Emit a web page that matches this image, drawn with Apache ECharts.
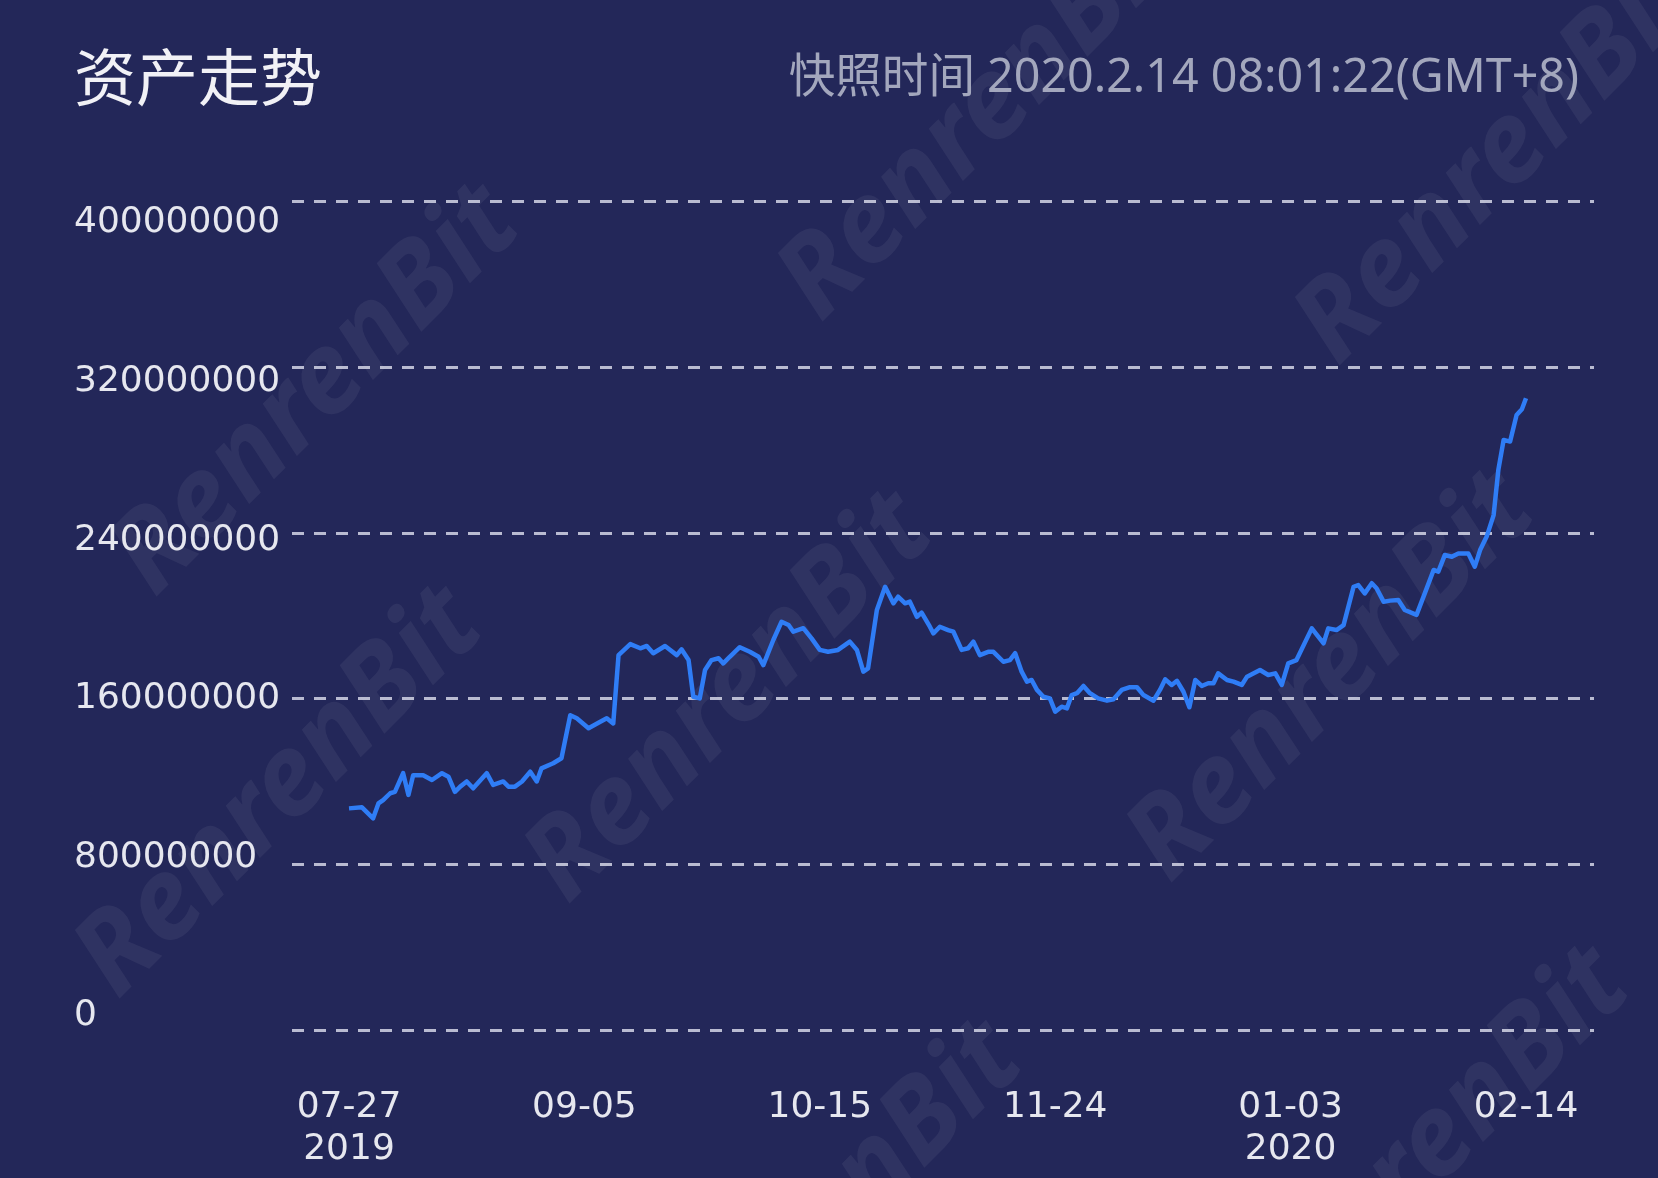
<!DOCTYPE html>
<html>
<head>
<meta charset="utf-8">
<script src="https://cdn.jsdelivr.net/npm/echarts@6/dist/echarts.min.js"></script>
<style>
html,body{margin:0;padding:0;background:#232759;}
#chart{width:1658px;height:1178px;}
</style>
</head>
<body>
<div id="chart"></div>
<script>
// x tick labels (at day index 0,40,80,120,160,200)
const tickLabels = ['07-27\n2019', '09-05', '10-15', '11-24', '01-03\n2020', '02-14'];
const yTickLabels = ['0', '80000000', '160000000', '240000000', '320000000', '400000000'];
const titleText = '资产走势';
const snapshotText = '快照时间 2020.2.14 08:01:22(GMT+8)';

// position along the time axis (day slots from 07-27)
const dayIndex = [
  0, 2.2, 4.1, 5.0, 5.8, 7.0, 7.8, 9.2, 10.1, 10.9,
  12.6, 14.1, 15.8, 16.9, 18.0, 18.9, 20.0, 21.1, 23.4, 24.5,
  26.2, 27.1, 28.2, 29.4, 30.8, 31.9, 32.7, 34.7, 36.1, 37.6,
  38.7, 40.7, 42.7, 43.8, 44.9, 45.8, 47.8, 49.5, 50.6, 51.7,
  53.7, 55.7, 56.5, 57.7, 58.5, 59.6, 60.5, 61.6, 62.8, 63.6,
  64.7, 66.4, 68.1, 69.6, 70.4, 72.1, 73.5, 74.7, 75.5, 77.2,
  78.6, 80.0, 81.4, 83.1, 85.1, 86.3, 87.4, 88.2, 89.7, 91.1,
  92.5, 93.3, 94.5, 95.3, 96.5, 97.3, 98.7, 99.3, 100.4, 101.8,
  102.7, 104.1, 105.2, 106.1, 107.2, 108.6, 109.5, 111.2, 112.3, 113.2,
  114.3, 115.2, 116.0, 116.9, 118.0, 119.1, 120.0, 121.1, 122.0, 122.8,
  123.7, 124.8, 125.9, 127.3, 128.8, 129.9, 131.3, 132.7, 133.9, 135.0,
  136.7, 137.8, 138.7, 139.8, 140.7, 141.8, 142.8, 143.8, 144.9, 146.0,
  146.9, 147.7, 149.2, 150.3, 151.7, 152.6, 154.8, 156.2, 157.4, 158.5,
  159.6, 161.0, 163.6, 165.6, 166.4, 167.8, 169.0, 170.7, 171.5, 172.6,
  173.8, 174.6, 175.8, 176.9, 178.3, 179.4, 181.4, 182.8, 184.3, 185.1,
  186.2, 187.4, 188.5, 190.2, 191.3, 192.2, 193.3, 194.5, 195.3, 196.2,
  197.3, 198.4, 199.3, 200
];
// asset value, in millions
const assetMillions = [
  107.0, 107.5, 102.2, 109.4, 111, 114.3, 115, 124, 113.5, 123,
  123, 120.7, 124, 122.3, 115, 117.5, 120, 116.7, 124, 118.3,
  120, 117.5, 117.5, 120, 124.7, 120, 126.3, 128.8, 131.2, 152,
  150.5, 145.7, 148.8, 150.5, 148, 181, 186.3, 184.3, 185.4, 181.9,
  185.4, 181, 183.8, 178.6, 160.9, 160.1, 173.8, 178.6, 179.5, 177,
  180.2, 184.8, 182.6, 180.2, 176.2, 188.3, 197.1, 195.5, 192.3, 194,
  189.1, 183.5, 182.6, 183.5, 187.5, 183.5, 173, 174.6, 202.8, 214,
  206, 209.2, 206, 206.8, 199.5, 201.5, 194.7, 191.5, 194.7, 193.1,
  192.3, 183.5, 184.3, 187.5, 181, 182.6, 182.6, 177.8, 178.6, 181.9,
  173, 168.2, 169, 164.2, 160.9, 160.1, 153.7, 156.1, 155.3, 161.7,
  162.6, 166.1, 162.6, 160.1, 159, 159.7, 164.2, 165.5, 165.5, 161.7,
  159, 164.2, 169.3, 166.6, 168.6, 163.3, 155.8, 169, 166.1, 167.4,
  167.4, 172.2, 169, 168.2, 166.6, 170.6, 173.8, 171.4, 172.2, 166.6,
  177, 178.6, 193.9, 186.7, 193.9, 193.1, 195.5, 214, 214.8, 210.8,
  215.7, 213.3, 206.8, 207.3, 207.6, 202.8, 200.4, 210.8, 222.1, 221.3,
  229.3, 228.5, 230.1, 230.1, 223.7, 231.7, 238.1, 248.6, 270.4, 284.9,
  284.1, 296.9, 299.7, 305
];

const seriesData = dayIndex.map((d, i) => [d, assetMillions[i] * 1e6]);

const watermarks = [
  {x: 317, y: 391}, {x: 983, y: 116}, {x: 1500, y: 160},
  {x: 730, y: 698}, {x: 1332, y: 677}, {x: 280, y: 793},
  {x: 820, y: 1227}, {x: 1427, y: 1153}
];

const chart = echarts.init(document.getElementById('chart'), null, {renderer: 'canvas'});

const labelFont = 'DejaVu Sans';
const yMax = 400e6, yStep = 80e6;

const option = {
  backgroundColor: '#232759',
  animation: false,
  graphic: watermarks.map(w => ({
    type: 'text', x: w.x, y: w.y, rotation: Math.PI / 4, z: -10, silent: true,
    style: {
      text: 'RenrenBit', fill: 'rgba(255,255,255,0.06)',
      font: 'italic bold 112px "Noto Sans"', align: 'center', verticalAlign: 'middle'
    }
  })).concat([
    {
      type: 'text', x: 74, y: 77, z: 10,
      style: {text: titleText, fill: '#f1f1f6', font: '62px "Noto Sans CJK SC"', align: 'left', verticalAlign: 'middle'}
    },
    {
      type: 'text', x: 1579, y: 79, z: 10,
      style: {text: snapshotText, fill: '#a3a7bd', font: '46.6px "Noto Sans", "Noto Sans CJK SC"', align: 'right', verticalAlign: 'middle'}
    }
  ]),
  grid: [
    {left: 292, right: 64, top: 201.5, bottom: 148},
    {left: 349, right: 132, top: 201.5, bottom: 148},
    {left: 74, width: 10, top: 223, bottom: 162}
  ],
  xAxis: [
    {gridIndex: 0, type: 'value', min: 0, max: 1, show: false},
    {
      gridIndex: 1, type: 'value', min: 0, max: 200, interval: 40,
      axisLine: {show: false}, axisTick: {show: false}, splitLine: {show: false},
      axisLabel: {
        show: true, margin: 57, fontSize: 36, lineHeight: 42, fontFamily: labelFont,
        color: '#e6e7ef', showMinLabel: true, showMaxLabel: true,
        formatter: v => tickLabels[Math.round(v / 40)] || ''
      }
    },
    {gridIndex: 2, type: 'value', min: 0, max: 1, show: false}
  ],
  yAxis: [
    {
      gridIndex: 0, type: 'value', min: 0, max: yMax, interval: yStep,
      axisLine: {show: false}, axisTick: {show: false}, axisLabel: {show: false},
      splitLine: {show: true, lineStyle: {type: [12, 10], width: 3, color: 'rgba(212,214,230,0.85)'}}
    },
    {gridIndex: 1, type: 'value', min: 0, max: yMax, show: false},
    {
      gridIndex: 2, type: 'value', min: 0, max: yMax, interval: yStep,
      axisLine: {show: false}, axisTick: {show: false}, splitLine: {show: false},
      axisLabel: {
        show: true, margin: 0, align: 'left', fontSize: 36, fontFamily: labelFont,
        color: '#e6e7ef', showMinLabel: true, showMaxLabel: true,
        formatter: v => yTickLabels[Math.round(v / yStep)]
      }
    }
  ],
  series: [
    {
      type: 'line', xAxisIndex: 1, yAxisIndex: 1, data: seriesData,
      showSymbol: false, smooth: false, silent: true,
      lineStyle: {color: '#2f7df6', width: 4.5, join: 'round'}
    },
    {type: 'line', xAxisIndex: 2, yAxisIndex: 2, data: [], silent: true}
  ]
};
chart.setOption(option);
</script>
</body>
</html>
